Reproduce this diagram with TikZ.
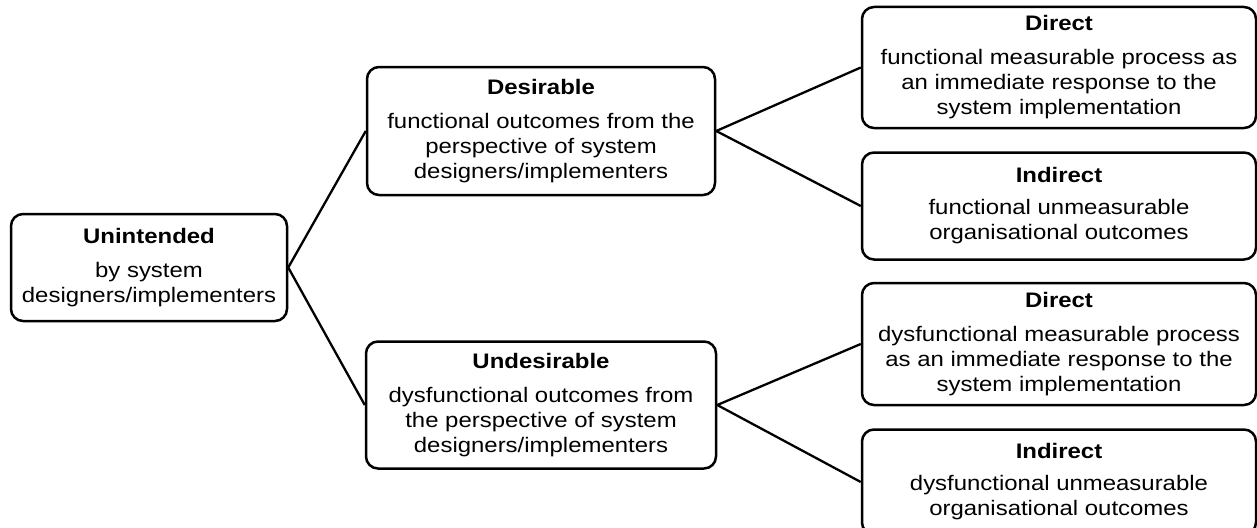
\documentclass[tikz,border=0pt]{standalone}
\usepackage{fontspec}
\setmainfont{Liberation Sans}[FakeStretch=1.14]
\usetikzlibrary{positioning}

\begin{document}
\begin{tikzpicture}[x=1pt, y=-1pt,
  box/.style={draw, rounded corners=12pt, line width=2.5pt, align=center, inner sep=4pt,
    font=\fontsize{21}{25}\selectfont},
  wide/.style={box, minimum width=394pt},
  link/.style={line width=2.3pt}]
\useasboundingbox (0,0) rectangle (1257,527);
% left column
\node[box, minimum width=276pt, minimum height=107pt] (unint) at (149,267.5)
  {\textbf{Unintended}\\[9pt]by system\\designers/implementers};
% middle column
\node[box, minimum width=348pt, minimum height=128pt] (des) at (541,131)
  {\textbf{Desirable}\\[9pt]functional outcomes from the\\perspective of system\\designers/implementers};
\node[box, minimum width=350pt, minimum height=127pt, below=144pt of des] (undes)
  {\textbf{Undesirable}\\[9pt]dysfunctional outcomes from\\the perspective of system\\designers/implementers};
% right column
\node[wide, minimum height=121pt] (dirf) at (1059,67.5)
  {\textbf{Direct}\\[9pt]functional measurable process as\\an immediate response to the\\system implementation};
\node[wide, minimum height=107pt, below=22pt of dirf] (indf)
  {\textbf{Indirect}\\[7pt]functional unmeasurable\\organisational outcomes};
\node[wide, minimum height=122pt, below=21pt of indf] (dird)
  {\textbf{Direct}\\[9pt]dysfunctional measurable process\\as an immediate response to the\\system implementation};
\node[wide, minimum height=105pt, below=22pt of dird] (indd)
  {\textbf{Indirect}\\[7pt]dysfunctional unmeasurable\\organisational outcomes};
% connectors
\draw[link] (unint.east) -- (des.west);
\draw[link] (unint.east) -- (undes.west);
\draw[link] (des.east) -- (dirf.west);
\draw[link] (des.east) -- (indf.west);
\draw[link] (undes.east) -- (dird.west);
\draw[link] (undes.east) -- (indd.west);
\end{tikzpicture}
\end{document}
